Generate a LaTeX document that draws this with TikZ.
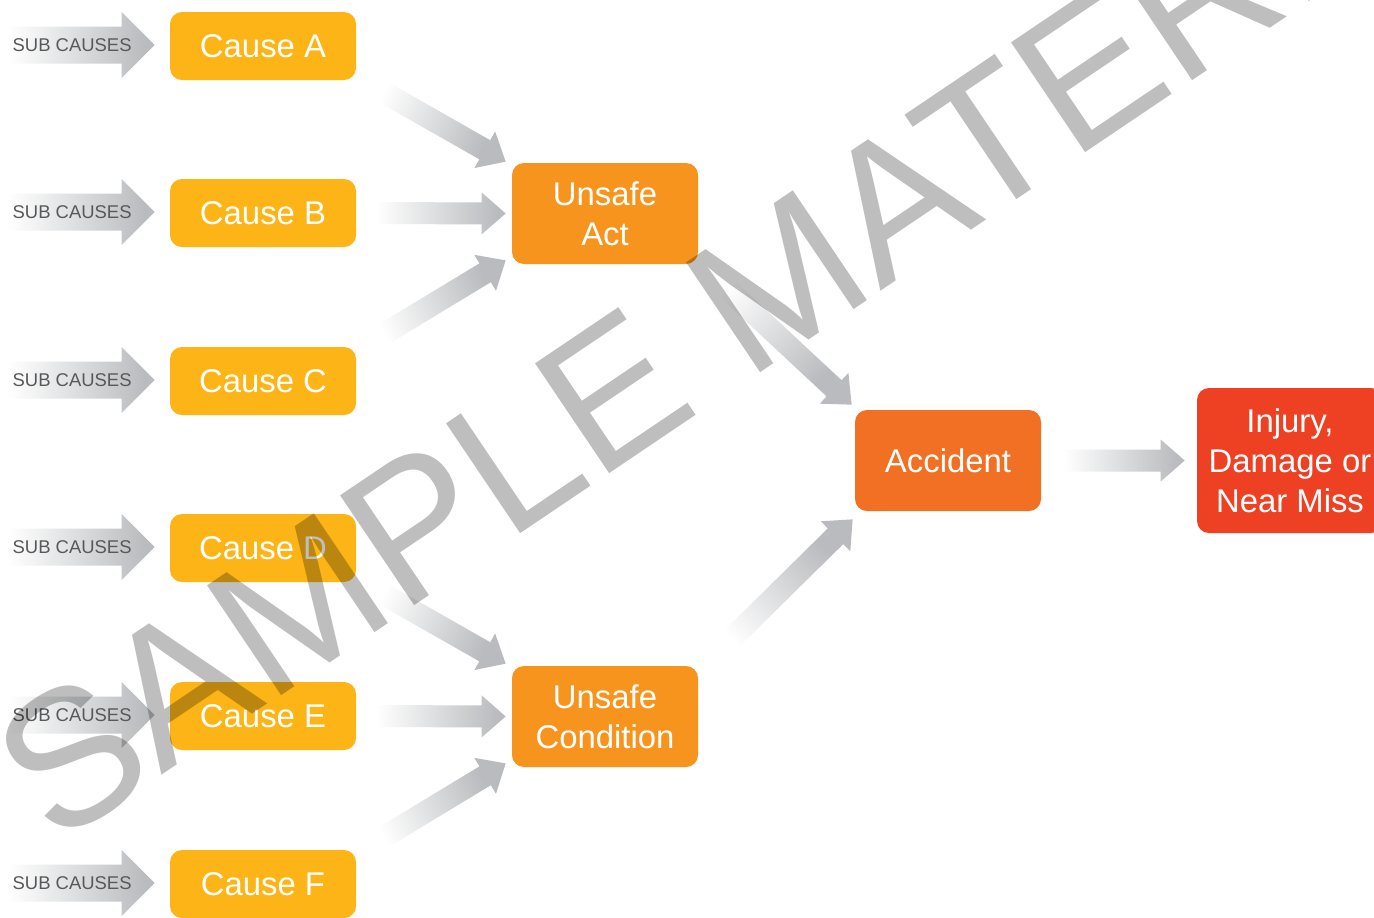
\documentclass[tikz,border=0pt]{standalone}
\usepackage{fontspec}
\setmainfont{Liberation Sans}
\usetikzlibrary{calc}
\definecolor{pamber}{HTML}{FCB416}
\definecolor{porange}{HTML}{F7941E}
\definecolor{pdeep}{HTML}{F27023}
\definecolor{pred}{HTML}{EE4023}
\definecolor{pgrayd}{HTML}{B9BBBE}
\definecolor{ptext}{HTML}{58595B}
\definecolor{pstamp}{HTML}{BEBEBE}
\pgfdeclarehorizontalshading{fade}{100bp}{color(0bp)=(white); color(28bp)=(white);
  color(72bp)=(pgrayd); color(100bp)=(pgrayd)}
\tikzset{
  % Rounded filled box with white text.
  box/.style   = {rectangle, rounded corners=2.4mm, fill=#1, text=white, align=center,
                  inner sep=0pt, minimum width=37.2mm, minimum height=20.2mm,
                  font=\fontsize{18.7}{22.8}\selectfont},
  box/.default = porange,
  cause/.style = {box=pamber, minimum height=13.6mm},
  subtxt/.style = {inner sep=0pt, text=ptext, font=\fontsize{10.5}{12}\selectfont},
  fat/.style   = {shade, shading=fade},
  stamp/.style = {anchor=base west, inner sep=0pt, rotate=34, text=pstamp,
                  blend mode=multiply, font=\fontsize{109.6}{110}\selectfont},
}
\def\shaftw{2.2mm}\def\headw{4.2mm}\def\headl{4.8mm}
% fat shaded arrow: tail, tip, shading angle
\newcommand\fatlink[3]{%
  \coordinate (t) at (#1);
  \coordinate (p) at (#2);
  \coordinate (b) at ($(p)!\headl!(t)$);
  \path[fat, shading angle=#3]
    ($(t)!\shaftw!90:(p)$) -- ($(b)!\shaftw!90:(p)$) -- ($(b)!\headw!90:(p)$) -- (p)
    -- ($(b)!\headw!-90:(p)$) -- ($(b)!\shaftw!-90:(p)$) -- ($(t)!\shaftw!-90:(p)$) -- cycle;
}

\begin{document}
\begin{tikzpicture}[x=0.2mm, y=-0.2mm]
\useasboundingbox[fill=white] (0,0) rectangle (1374,917);
\clip (0,0) rectangle (1374,917);

\node[cause] (ca) at (263,46)  {Cause A};
\node[cause] (cb) at (263,213) {Cause B};
\node[cause] (cc) at (263,381) {Cause C};
\node[cause] (cd) at (263,548) {Cause D};
\node[cause] (ce) at (263,716) {Cause E};
\node[cause] (cf) at (263,884) {Cause F};

\node[box] (ua) at (605,213.5) {Unsafe\\Act};
\node[box] (uc) at (605,716.5) {Unsafe\\Condition};
\node[box=pdeep] (acc) at (948,460.5) {Accident};
\node[box=pred, minimum height=29mm] (inj) at (1290,460.5) {Injury,\\Damage or\\Near Miss};

% sub causes feeding each cause
\begin{scope}
\def\shaftw{3.7mm}\def\headw{6.6mm}\def\headl{6.6mm}
\foreach \n in {a,b,c,d,e,f}{
  \fatlink{$(c\n.west)+(-170,-1)$}{$(c\n.west)+(-15,-1)$}{0}
  \node[subtxt] (s\n) at ($(c\n.west)+(-97.5,-1)$) {SUB CAUSES};
}
\end{scope}

\fatlink{$(ca.south east)+(10,2)$}{$(ua.north west)+(-6,-1)$}{-25}
\fatlink{$(cb.east)+(12,0)$}{$(ua.west)+(-6,0)$}{0}
\fatlink{$(cc.north east)+(10,-2)$}{$(ua.south west)+(-6,-4)$}{25}
\fatlink{$(cd.south east)+(10,2)$}{$(uc.north west)+(-6,-2)$}{-25}
\fatlink{$(ce.east)+(12,0)$}{$(uc.west)+(-6,0)$}{0}
\fatlink{$(cf.north east)+(10,-2)$}{$(uc.south west)+(-6,-4)$}{25}
\fatlink{$(ua.south east)+(7,4)$}{$(acc.north west)+(-3,-5)$}{-44}
\fatlink{$(uc.north east)+(12,-6)$}{$(acc.south west)+(-2,8)$}{44}
\fatlink{$(acc.east)+(15,0)$}{$(inj.west)+(-12,0)$}{0}

\node[stamp] (wm) at (55,848) {SAMPLE MATERIAL};
\end{tikzpicture}
\end{document}
